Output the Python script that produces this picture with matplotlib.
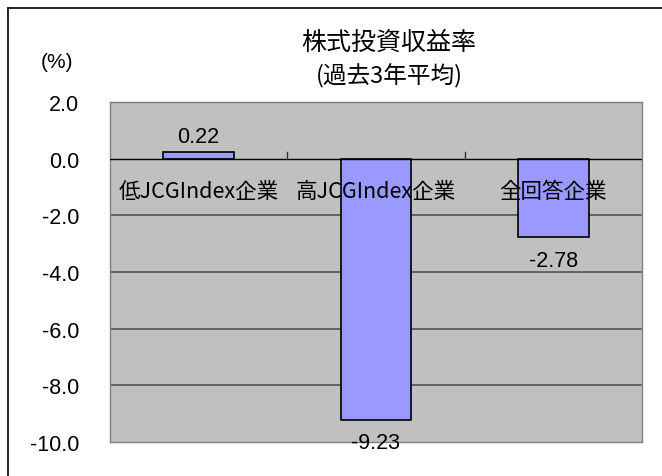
import matplotlib
matplotlib.use("Agg")
import matplotlib.pyplot as plt
from matplotlib.lines import Line2D

plt.rcParams['font.family'] = ['Liberation Sans', 'Noto Sans CJK JP']

categories = ['低JCGIndex企業', '高JCGIndex企業', '全回答企業']
values = [0.22, -9.23, -2.78]
value_labels = ['0.22', '-9.23', '-2.78']
yticks = [2.0, 0.0, -2.0, -4.0, -6.0, -8.0, -10.0]
title_lines = ['株式投資収益率', '(過去3年平均)']

W, H = 662, 477
fig = plt.figure(figsize=(W / 100, H / 100), dpi=100)
fig.patch.set_facecolor('white')

# outer frame
fig.add_artist(Line2D([8 / W, 8 / W], [0, 1 - 9 / H], transform=fig.transFigure, color='black', lw=1.2))
fig.add_artist(Line2D([8 / W, 1], [1 - 9 / H, 1 - 9 / H], transform=fig.transFigure, color='black', lw=1.2))

left, right, top, bottom = 110, 642, 103, 443
ax = fig.add_axes([left / W, 1 - bottom / H, (right - left) / W, (bottom - top) / H])
ax.set_facecolor('#C0C0C0')
ax.set_xlim(-0.5, 2.5)
ax.set_ylim(-10, 2)

for y in yticks:
    if -10 < y < 2 and y != 0:
        ax.axhline(y, color='#555555', lw=1.2, zorder=1)

x = range(len(categories))
ax.bar(x, values, width=0.4, color='#9999FF', edgecolor='black', lw=1.2, zorder=3)
ax.axhline(0, color='black', lw=1.0, zorder=4)

# category boundary ticks on zero axis
for b in [0.5, 1.5]:
    ax.plot([b, b], [0, 0.25], color='#333333', lw=1.0, zorder=4)

for i, (v, lab) in enumerate(zip(values, value_labels)):
    if v >= 0:
        ax.text(i, v + 0.55, lab, ha='center', va='center', fontsize=15.5, zorder=5)
    else:
        ax.text(i, v - 0.8, lab, ha='center', va='center', fontsize=15.5, zorder=5)

for i, c in enumerate(categories):
    ax.text(i, -1.15, c, ha='center', va='center', fontsize=15.5, zorder=5,
            family=['Noto Sans CJK JP', 'Liberation Sans'])

ax.set_yticks(yticks)
ax.set_yticklabels([f'{t:.1f}' for t in yticks], fontsize=15.5)
ax.tick_params(axis='y', length=0, pad=22)
ax.set_xticks([])
for s in ['left', 'top', 'right', 'bottom']:
    ax.spines[s].set_color('#808080')
    ax.spines[s].set_linewidth(1.0)

fig.text(389 / W, 1 - 43 / H, title_lines[0], ha='center', va='center', fontsize=18,
         family=['Noto Sans CJK JP', 'Liberation Sans'])
fig.text(389 / W, 1 - 76 / H, title_lines[1], ha='center', va='center', fontsize=17,
         family=['Noto Sans CJK JP', 'Liberation Sans'])
fig.text(57 / W, 1 - 62 / H, '(%)', ha='center', va='center', fontsize=15)

fig.savefig('out.png', dpi=100, facecolor='white')
